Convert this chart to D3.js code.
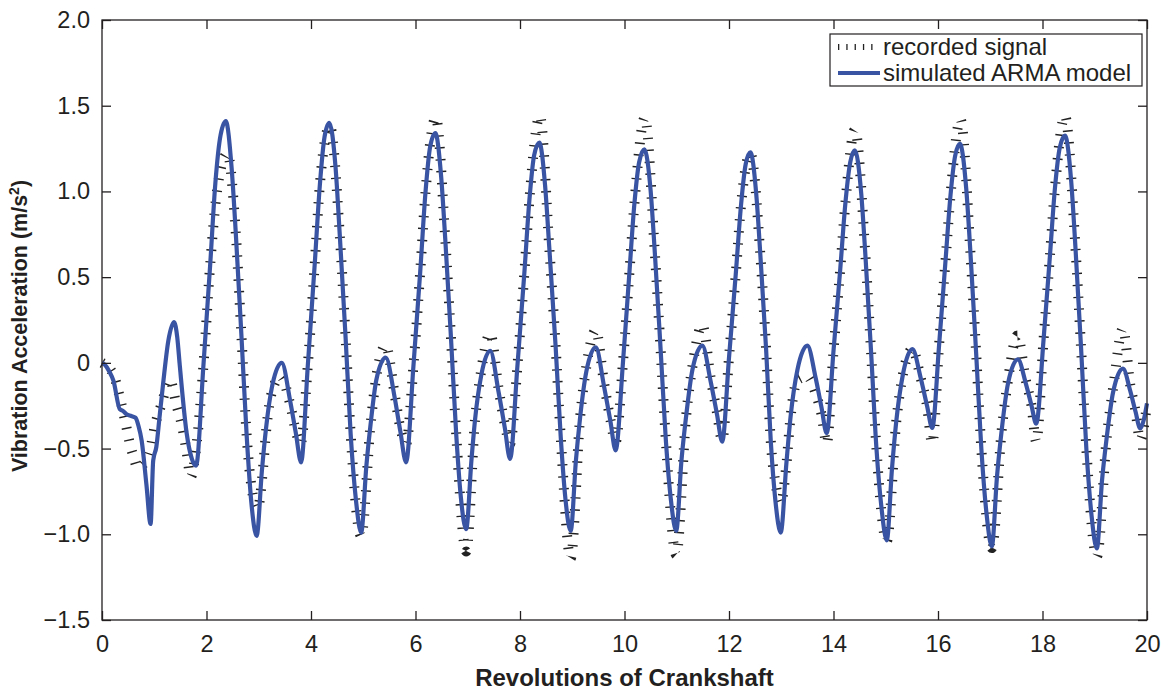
<!DOCTYPE html>
<html>
<head>
<meta charset="utf-8">
<script src="https://cdn.jsdelivr.net/npm/d3@7"></script>
<style>
  body { margin: 0; background: #fff; }
  text { font-family: "Liberation Sans", Arial, sans-serif; fill: #231f20; }
</style>
</head>
<body>
<svg id="chart" width="1172" height="691"></svg>
<script>
// revolutions vs acceleration
const simulated = [
  [0, 0], [0.05, -0.01], [0.14, -0.05], [0.22, -0.105], [0.34, -0.27], [0.40, -0.28], [0.47, -0.30],
  [0.56, -0.31], [0.64, -0.32], [0.70, -0.37], [0.76, -0.455], [0.85, -0.71], [0.93, -0.94],
  [0.98, -0.57], [1.04, -0.49], [1.10, -0.32], [1.17, -0.12], [1.27, 0.13], [1.38, 0.238],
  [1.44, 0.15], [1.49, -0.02], [1.62, -0.41], [1.72, -0.56], [1.80, -0.60],
  [1.94, -0.02], [2.07, 0.57], [2.17, 1.05], [2.27, 1.33], [2.37, 1.41],
  [2.48, 1.14], [2.56, 0.76], [2.67, 0.15], [2.77, -0.43], [2.86, -0.82], [2.96, -1.01],
  [3.06, -0.63], [3.14, -0.38], [3.26, -0.13], [3.44, 0.00], [3.60, -0.22], [3.71, -0.41], [3.81, -0.58],
  [3.94, -0.01], [4.07, 0.57], [4.17, 1.04], [4.26, 1.32], [4.35, 1.40],
  [4.47, 1.14], [4.55, 0.75], [4.66, 0.16], [4.76, -0.42], [4.86, -0.80], [4.96, -0.99],
  [5.06, -0.60], [5.14, -0.36], [5.25, -0.10], [5.43, 0.03], [5.60, -0.20], [5.71, -0.40], [5.82, -0.58],
  [5.96, -0.02], [6.09, 0.53], [6.19, 0.99], [6.28, 1.26], [6.38, 1.34],
  [6.49, 1.09], [6.57, 0.72], [6.68, 0.14], [6.78, -0.42], [6.87, -0.79], [6.97, -0.97],
  [7.07, -0.57], [7.14, -0.33], [7.26, -0.07], [7.43, 0.07], [7.59, -0.17], [7.71, -0.38], [7.81, -0.56],
  [7.95, -0.02], [8.08, 0.51], [8.18, 0.95], [8.27, 1.21], [8.37, 1.285],
  [8.48, 1.035], [8.56, 0.675], [8.68, 0.105], [8.78, -0.435], [8.87, -0.795], [8.97, -0.98],
  [9.07, -0.57], [9.15, -0.32], [9.27, -0.05], [9.45, 0.09], [9.61, -0.14], [9.73, -0.34], [9.83, -0.51],
  [9.97, 0.00], [10.09, 0.51], [10.19, 0.93], [10.28, 1.17], [10.38, 1.245],
  [10.50, 1.005], [10.58, 0.645], [10.69, 0.085], [10.79, -0.445], [10.89, -0.805], [10.99, -0.98],
  [11.09, -0.57], [11.18, -0.31], [11.30, -0.04], [11.49, 0.10], [11.65, -0.11], [11.77, -0.30], [11.87, -0.46],
  [12.00, 0.03], [12.13, 0.52], [12.23, 0.92], [12.32, 1.16], [12.41, 1.228],
  [12.52, 0.99], [12.60, 0.63], [12.71, 0.08], [12.80, -0.46], [12.89, -0.81], [12.99, -0.99],
  [13.10, -0.58], [13.18, -0.31], [13.31, -0.04], [13.50, 0.10], [13.66, -0.09], [13.77, -0.26], [13.87, -0.41],
  [14.00, 0.07], [14.13, 0.55], [14.23, 0.94], [14.32, 1.17], [14.41, 1.24],
  [14.53, 0.99], [14.61, 0.63], [14.72, 0.06], [14.82, -0.49], [14.92, -0.85], [15.02, -1.035],
  [15.12, -0.615], [15.20, -0.345], [15.33, -0.065], [15.51, 0.08], [15.67, -0.09], [15.79, -0.25], [15.89, -0.38],
  [16.02, 0.10], [16.14, 0.58], [16.24, 0.98], [16.33, 1.21], [16.42, 1.277],
  [16.54, 1.017], [16.62, 0.647], [16.73, 0.057], [16.83, -0.503], [16.93, -0.883], [17.03, -1.07],
  [17.13, -0.66], [17.22, -0.39], [17.34, -0.12], [17.53, 0.02], [17.68, -0.12], [17.79, -0.25], [17.88, -0.355],
  [18.02, 0.135], [18.14, 0.615], [18.24, 1.025], [18.33, 1.255], [18.43, 1.326],
  [18.55, 1.056], [18.63, 0.676], [18.74, 0.076], [18.84, -0.504], [18.94, -0.894], [19.04, -1.083],
  [19.14, -0.683], [19.23, -0.433], [19.35, -0.173], [19.54, -0.034], [19.68, -0.164], [19.78, -0.284], [19.87, -0.383],
  [19.94, -0.33], [20.0, -0.236]
];

const recorded = [
  [0, 0], [0.22, -0.07], [0.34, -0.20], [0.44, -0.335], [0.54, -0.48], [0.60, -0.545], [0.68, -0.61],
  [0.82, -0.58], [0.92, -0.51], [1.01, -0.37], [1.14, -0.24], [1.30, -0.10], [1.42, -0.24], [1.54, -0.38],
  [1.62, -0.52], [1.70, -0.665], [1.80, -0.50], [1.94, -0.02], [2.07, 0.57], [2.20, 1.00], [2.40, 1.22],
  [2.56, 0.76], [2.67, 0.15], [2.77, -0.43], [2.86, -0.72], [2.98, -0.85], [3.08, -0.62], [3.14, -0.40],
  [3.26, -0.16], [3.42, -0.08], [3.60, -0.24], [3.71, -0.40], [3.80, -0.47],
  [3.94, -0.01], [4.07, 0.57], [4.17, 1.04], [4.36, 1.38], [4.55, 0.75], [4.66, 0.16], [4.76, -0.42], [4.96, -1.01],
  [5.14, -0.36], [5.25, -0.08], [5.43, 0.10], [5.60, -0.18], [5.71, -0.38], [5.82, -0.47],
  [5.96, -0.02], [6.09, 0.53], [6.19, 0.99], [6.39, 1.43], [6.57, 0.72], [6.68, 0.14], [6.78, -0.42], [6.97, -1.10],
  [7.14, -0.33], [7.26, -0.04], [7.43, 0.17], [7.59, -0.15], [7.71, -0.36], [7.81, -0.47],
  [7.95, -0.02], [8.08, 0.51], [8.18, 0.95], [8.38, 1.44], [8.56, 0.675], [8.68, 0.105], [8.78, -0.435], [8.97, -1.14],
  [9.15, -0.32], [9.27, -0.02], [9.45, 0.19], [9.61, -0.12], [9.73, -0.33], [9.83, -0.46],
  [9.97, 0.00], [10.09, 0.51], [10.19, 0.93], [10.39, 1.43], [10.58, 0.645], [10.69, 0.085], [10.79, -0.445], [10.99, -1.12],
  [11.18, -0.31], [11.30, -0.02], [11.49, 0.22], [11.65, -0.09], [11.77, -0.29], [11.87, -0.45],
  [12.00, 0.03], [12.13, 0.52], [12.23, 0.92], [12.41, 1.22], [12.60, 0.63], [12.71, 0.08], [12.80, -0.46],
  [12.90, -0.72], [12.99, -0.82], [13.09, -0.62], [13.18, -0.31], [13.31, -0.10], [13.50, -0.08],
  [13.66, -0.18], [13.77, -0.30], [13.87, -0.47],
  [14.00, 0.07], [14.13, 0.55], [14.23, 0.94], [14.41, 1.36], [14.61, 0.63], [14.72, 0.06], [14.82, -0.49], [15.02, -1.04],
  [15.20, -0.345], [15.33, -0.065], [15.51, 0.08], [15.67, -0.09], [15.79, -0.25], [15.89, -0.47],
  [16.02, 0.10], [16.14, 0.58], [16.24, 0.98], [16.43, 1.42], [16.62, 0.647], [16.73, 0.057], [16.83, -0.503], [17.03, -1.08],
  [17.22, -0.39], [17.34, -0.10], [17.52, 0.16], [17.68, -0.10], [17.79, -0.25], [17.88, -0.46],
  [18.02, 0.135], [18.14, 0.615], [18.24, 1.025], [18.43, 1.44], [18.63, 0.676], [18.74, 0.076], [18.84, -0.504], [19.04, -1.13],
  [19.23, -0.433], [19.35, -0.15], [19.54, 0.20], [19.68, -0.13], [19.78, -0.28], [19.87, -0.45], [20.0, -0.24]
];

const xTicks = [0, 2, 4, 6, 8, 10, 12, 14, 16, 18, 20];
const yTicks = [-1.5, -1.0, -0.5, 0, 0.5, 1.0, 1.5, 2.0];
const yTickLabels = ["\u22121.5", "\u22121.0", "\u22120.5", "0", "0.5", "1.0", "1.5", "2.0"];
const legendLabels = ["recorded signal", "simulated ARMA model"];

const blue = "#3a54a4";
const plotLeft = 102, plotRight = 1147, plotTop = 20, plotBottom = 620;

const svg = d3.select("#chart");

const x = d3.scaleLinear().domain([0, 20]).range([plotLeft, plotRight]);
const y = d3.scaleLinear().domain([-1.5, 2.0]).range([plotBottom, plotTop]);

const line = d3.line()
  .x(d => x(d[0]))
  .y(d => y(d[1]))
  .curve(d3.curveMonotoneX);

// recorded signal: tiny dashes on a wide stroke give the little cross ticks
svg.append("path")
  .datum(recorded)
  .attr("fill", "none")
  .attr("stroke", "#222")
  .attr("stroke-width", 10)
  .attr("stroke-dasharray", "1.4 10.5")
  .attr("d", line);

svg.append("path")
  .datum(simulated)
  .attr("fill", "none")
  .attr("stroke", blue)
  .attr("stroke-width", 4.2)
  .attr("stroke-linejoin", "round")
  .attr("d", line);

// frame with inward ticks on all four sides
const tickLen = 9;
svg.append("rect")
  .attr("x", plotLeft).attr("y", plotTop)
  .attr("width", plotRight - plotLeft).attr("height", plotBottom - plotTop)
  .attr("fill", "none").attr("stroke", "#231f20").attr("stroke-width", 1.3);

svg.append("g")
  .attr("transform", `translate(0,${plotBottom})`)
  .call(d3.axisBottom(x).tickValues(xTicks).tickSize(-tickLen).tickPadding(15).tickFormat(d3.format("d")));
svg.append("g")
  .attr("transform", `translate(0,${plotTop})`)
  .call(d3.axisTop(x).tickValues(xTicks).tickSize(-tickLen).tickFormat(""));
svg.append("g")
  .attr("transform", `translate(${plotLeft},0)`)
  .call(d3.axisLeft(y).tickValues(yTicks).tickSize(-tickLen).tickPadding(12)
    .tickFormat((d, i) => yTickLabels[i]));
svg.append("g")
  .attr("transform", `translate(${plotRight},0)`)
  .call(d3.axisRight(y).tickValues(yTicks).tickSize(-tickLen).tickFormat(""));

svg.selectAll(".domain").remove();
svg.selectAll(".tick line").attr("stroke", "#231f20").attr("stroke-width", 1.3);
svg.selectAll(".tick text")
  .style("font-family", "'Liberation Sans', Arial, sans-serif")
  .style("font-size", "23.5px")
  .attr("fill", "#231f20");

// axis titles
svg.append("text")
  .attr("x", (plotLeft + plotRight) / 2)
  .attr("y", 686)
  .attr("text-anchor", "middle")
  .style("font-size", "24px")
  .style("font-weight", "bold")
  .text("Revolutions of Crankshaft");

const yTitle = svg.append("text")
  .attr("transform", `translate(27,${(plotTop + plotBottom) / 2 + 6}) rotate(-90)`)
  .attr("text-anchor", "middle")
  .style("font-size", "21.5px")
  .style("font-weight", "bold");
yTitle.append("tspan").text("Vibration Acceleration (m/s");
yTitle.append("tspan").attr("dy", -8).style("font-size", "14px").text("2");
yTitle.append("tspan").attr("dy", 8).text(")");

// legend
const lg = svg.append("g");
lg.append("rect")
  .attr("x", 830).attr("y", 34)
  .attr("width", 312).attr("height", 52)
  .attr("fill", "#fff").attr("stroke", "#231f20").attr("stroke-width", 1.2);

lg.append("line")
  .attr("x1", 838).attr("x2", 879)
  .attr("y1", 47).attr("y2", 47)
  .attr("stroke", "#222").attr("stroke-width", 6)
  .attr("stroke-dasharray", "1.3 7");
lg.append("line")
  .attr("x1", 838).attr("x2", 880)
  .attr("y1", 73).attr("y2", 73)
  .attr("stroke", blue).attr("stroke-width", 4.2);

lg.selectAll("text.leg")
  .data(legendLabels)
  .join("text")
  .attr("class", "leg")
  .attr("x", 883)
  .attr("y", (d, i) => 55 + i * 26)
  .style("font-size", "24px")
  .text(d => d);
</script>
</body>
</html>
